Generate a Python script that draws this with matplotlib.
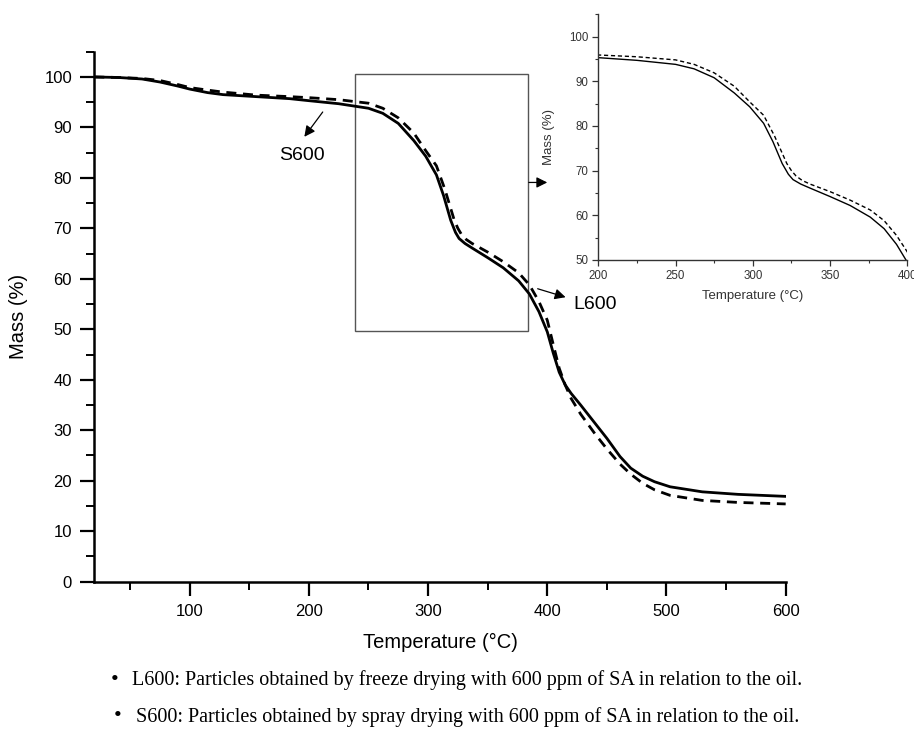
import matplotlib
matplotlib.use("Agg")
import matplotlib.pyplot as plt
from matplotlib.ticker import MultipleLocator
from matplotlib.patches import Rectangle

# ---- data ----
temp_L600 = [20, 40, 60, 75, 90, 100, 115, 128, 156, 184, 200, 225, 250, 262, 275, 288,
             298, 307, 313, 319, 323, 326, 331, 337, 350, 363, 376, 385, 393, 400, 405, 410,
             415, 420, 428, 440, 450, 461, 470, 480, 490, 503, 530, 560, 600]
mass_L600 = [100.0, 99.9, 99.6, 99.0, 98.2, 97.6, 96.9, 96.5, 96.1, 95.7, 95.3, 94.7, 93.8,
             92.8, 90.8, 87.4, 84.3, 80.6, 76.5, 71.6, 69.2, 68.0, 67.0, 66.1, 64.2, 62.2,
             59.6, 57.0, 53.5, 49.5, 45.3, 41.5, 39.0, 37.3, 35.0, 31.4, 28.4, 24.8, 22.5,
             20.9, 19.8, 18.8, 17.8, 17.3, 16.9]

temp_S600 = [20, 40, 60, 75, 90, 100, 115, 128, 156, 184, 200, 225, 250, 262, 275, 288,
             298, 307, 314, 322, 325, 328, 332, 337, 350, 363, 376, 385, 393, 400, 405, 410,
             415, 420, 428, 440, 450, 461, 470, 480, 490, 503, 530, 560, 600]
mass_S600 = [100.0, 99.9, 99.7, 99.3, 98.5, 97.9, 97.4, 97.0, 96.4, 96.1, 95.9, 95.5, 94.8,
             93.8, 91.9, 88.9, 85.4, 82.4, 77.8, 71.6, 70.0, 68.8, 67.8, 67.0, 65.3, 63.4,
             61.2, 58.8, 55.5, 51.8, 47.0, 42.3, 39.0, 36.3, 33.2, 29.3, 26.3, 23.3, 21.3,
             19.5, 18.2, 17.1, 16.1, 15.7, 15.4]

main_xticks = [100, 200, 300, 400, 500, 600]
main_yticks = [0, 10, 20, 30, 40, 50, 60, 70, 80, 90, 100]
inset_xticks = [200, 250, 300, 350, 400]
inset_yticks = [50, 60, 70, 80, 90, 100]

caption_L600 = "L600: Particles obtained by freeze drying with 600 ppm of SA in relation to the oil."
caption_S600 = "S600: Particles obtained by spray drying with 600 ppm of SA in relation to the oil."

plt.rcParams['font.family'] = ['Liberation Sans', 'DejaVu Sans']

fig = plt.figure(figsize=(9.14, 7.39), dpi=100)

# ---- main axes ----
ax = fig.add_axes([0.1032, 0.2129, 0.7564, 0.7171])
ax.plot(temp_L600, mass_L600, color='black', lw=2.0, solid_joinstyle='round')
ax.plot(temp_S600, mass_S600, color='black', lw=2.0, linestyle=(0, (3.6, 2.4)),
        dash_joinstyle='round')
ax.set_xlim(20, 600)
ax.set_ylim(0, 105)
ax.set_xticks(main_xticks)
ax.set_yticks(main_yticks)
ax.xaxis.set_minor_locator(MultipleLocator(50))
ax.yaxis.set_minor_locator(MultipleLocator(5))
for s in ['top', 'right']:
    ax.spines[s].set_visible(False)
for s in ['left', 'bottom']:
    ax.spines[s].set_linewidth(1.8)
ax.tick_params(which='major', direction='out', length=10, width=1.6, labelsize=12, pad=6)
ax.tick_params(which='minor', direction='out', length=6, width=1.4)
ax.set_xlabel('Temperature (°C)', fontsize=14.5, labelpad=10)
ax.set_ylabel('Mass (%)', fontsize=14.5, labelpad=12)

# zoom rectangle
ax.add_patch(Rectangle((238.7, 49.6), 145, 51, fill=False, edgecolor='#555555', lw=1.0))

arrow_kw = dict(arrowstyle='-|>', color='black', lw=0.9, mutation_scale=16)
ax.annotate('', xy=(194.8, 87.7), xytext=(213, 93.5), arrowprops=arrow_kw)
ax.text(194, 84.4, 'S600', fontsize=14, ha='center', va='center')
ax.annotate('', xy=(402.3, 79.1), xytext=(382.2, 79.1), arrowprops=arrow_kw, annotation_clip=False)
ax.annotate('', xy=(417.6, 56.2), xytext=(389.7, 58.2), arrowprops=arrow_kw)
ax.text(421.8, 54.9, 'L600', fontsize=14, ha='left', va='center')

# ---- inset ----
gray = '#333333'
ins = fig.add_axes([0.6546, 0.6482, 0.3381, 0.3324])
ins.plot(temp_L600, mass_L600, color='black', lw=1.0, solid_joinstyle='round')
ins.plot(temp_S600, mass_S600, color='black', lw=1.0, linestyle=(0, (3, 2)))
ins.set_xlim(200, 400)
ins.set_ylim(50, 105)
ins.set_xticks(inset_xticks)
ins.set_yticks(inset_yticks)
ins.xaxis.set_minor_locator(MultipleLocator(25))
ins.yaxis.set_minor_locator(MultipleLocator(5))
ins.patch.set_alpha(0)
for s in ['top', 'right']:
    ins.spines[s].set_visible(False)
for s in ['left', 'bottom']:
    ins.spines[s].set_linewidth(1.0)
    ins.spines[s].set_color(gray)
ins.tick_params(which='major', direction='out', length=4, width=0.9, labelsize=8.3,
                colors=gray, pad=3)
ins.tick_params(which='minor', direction='out', length=2.5, width=0.8, colors=gray)
ins.set_xlabel('Temperature (°C)', fontsize=9.5, color=gray, labelpad=6)
ins.set_ylabel('Mass (%)', fontsize=9.5, color=gray, labelpad=10)

# ---- captions ----
serif = ['Liberation Serif', 'DejaVu Serif']
fig.text(0.1214, 0.0798, '\u2022', fontsize=16, family=serif, ha='left', va='center')
fig.text(0.1444, 0.0798, caption_L600, fontsize=14.5, family=serif, ha='left', va='center')
fig.text(0.1247, 0.0302, '\u2022', fontsize=16, family=serif, ha='left', va='center')
fig.text(0.1488, 0.0302, caption_S600, fontsize=14.5, family=serif, ha='left', va='center')

fig.savefig('out.png', dpi=100)
